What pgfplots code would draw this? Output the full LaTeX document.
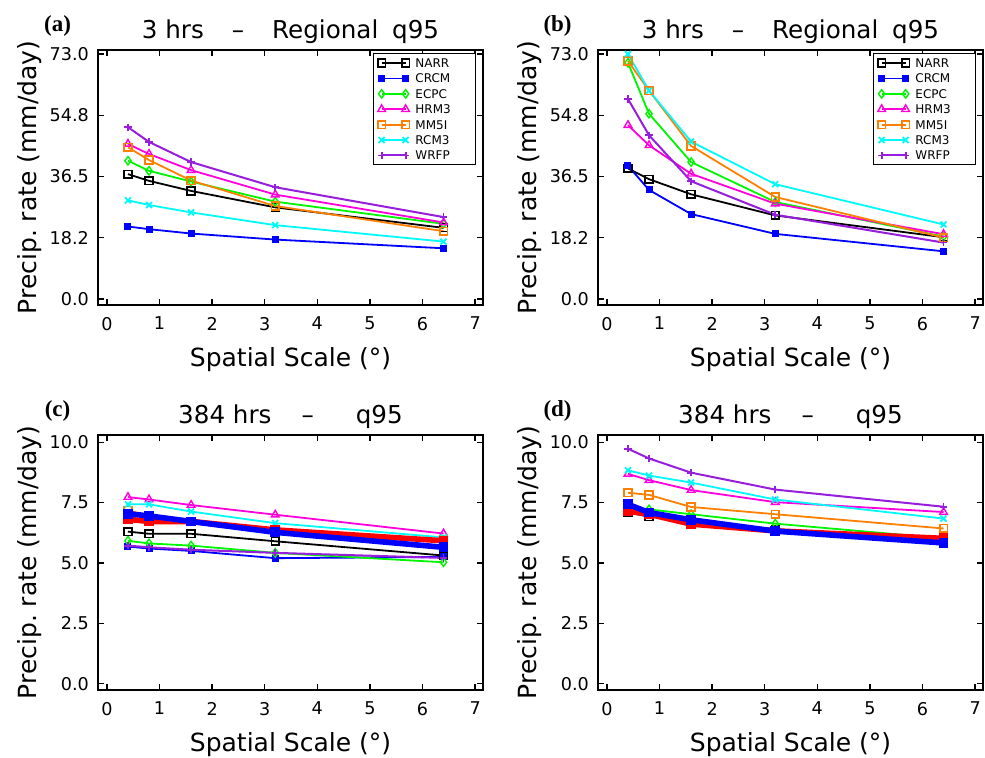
\documentclass[border=0pt]{standalone}
\usepackage{pgfplots}
\usepackage{pgfplotstable}
\pgfplotsset{compat=1.18}
\usepackage{fontspec}
\setmainfont{DejaVu Sans}
\newfontfamily\lblfont{Liberation Serif}
\definecolor{cCRCM}{RGB}{0,0,255}
\definecolor{cECPC}{RGB}{0,245,0}
\definecolor{cHRM}{RGB}{255,0,220}
\definecolor{cMM}{RGB}{255,128,0}
\definecolor{cRCM}{RGB}{0,250,250}
\definecolor{cWRF}{RGB}{150,30,220}
\definecolor{cRED}{RGB}{255,0,0}

\pgfplotstableread{
x   NARR CRCM ECPC HRM3 MM5I RCM3 WRFP
0.4 37.2 21.6 41.2 46.2 45.2 29.4 51.2
0.8 35.2 20.8 38.2 43.2 41.4 28.0 46.8
1.6 32.2 19.5 35.0 38.4 35.3 25.8 40.8
3.2 27.3 17.7 29.0 31.1 27.7 22.0 33.3
6.4 21.2 15.1 22.4 22.8 20.2 17.1 24.4
}\tA
\pgfplotstableread{
x   NARR CRCM ECPC HRM3 MM5I RCM3 WRFP
0.4 38.9 39.7 70.4 51.8 70.9 73.0 59.6
0.8 35.7 32.5 55.2 45.8 62.1 62.1 48.8
1.6 31.2 25.3 40.8 37.3 45.6 46.9 35.1
3.2 24.9 19.4 28.9 28.4 30.4 34.2 25.1
6.4 18.4 14.2 18.6 19.3 18.3 22.2 16.8
}\tB
\pgfplotstableread{
x   NARR CRCM ECPC HRM3 MM5I RCM3 WRFP RED  BLUE
0.4 6.30 5.68 5.92 7.73 7.18 7.43 5.72 6.81 7.04
0.8 6.21 5.60 5.81 7.63 6.95 7.43 5.65 6.72 6.95
1.6 6.21 5.50 5.72 7.40 6.72 7.13 5.55 6.72 6.72
3.2 5.90 5.20 5.42 7.00 6.30 6.65 5.42 6.37 6.27
6.4 5.31 5.25 5.03 6.22 5.95 6.06 5.21 5.92 5.65
}\tC
\pgfplotstableread{
x   NARR CRCM ECPC HRM3 MM5I RCM3 WRFP RED  BLUE
0.4 7.09 7.36 7.30 8.69 7.91 8.84 9.73 7.15 7.43
0.8 6.92 6.95 7.22 8.43 7.82 8.62 9.33 7.02 7.09
1.6 6.74 6.81 7.02 8.02 7.32 8.33 8.74 6.61 6.79
3.2 6.40 6.33 6.63 7.52 7.02 7.63 8.04 6.33 6.32
6.4 5.85 5.85 6.02 7.11 6.43 6.84 7.33 6.02 5.83
}\tD

\pgfplotsset{
  base/.style={
    scale only axis, width=192.5pt, height=127.5pt,
    xmin=-0.17, xmax=7.15, xtick={0,...,7},
    tick align=inside, major tick length=3pt,
    axis line style={line width=0.9pt},
    every tick/.style={black, line width=0.7pt},
    /pgf/number format/assume math mode=true,
    ticklabel style={font=\fontsize{8.8}{8.8}\selectfont},
    xticklabel style={yshift=-2.5pt},
    yticklabel style={xshift=-1pt},
    xlabel={Spatial Scale (°)},
    ylabel={Precip.\ rate (mm/day)},
    label style={font=\fontsize{12.5}{12.5}\selectfont},
    xlabel style={at={(axis description cs:0.5,-0.243)}, anchor=base},
    ylabel style={at={(axis description cs:-0.161,0.5)}, anchor=base},
    clip=false,
    legend style={at={(rel axis cs:0.982,0.988)}, anchor=north east, draw=black, line width=0.6pt, fill=white,
      inner xsep=2pt, inner ysep=1.5pt, row sep=1.3pt, column sep=2pt, font=\fontsize{6}{6}\selectfont,
      nodes={inner sep=1pt, text height=4.4pt, text depth=0pt, text width=27pt, align=left}},
    legend cell align=left,
    legend image code/.code={\draw[#1, mark repeat=1] plot coordinates {(0pt,0pt) (12pt,0pt)};},
  },
  topy/.style={ymin=-1.8, ymax=74.2, ytick={0,18.25,36.5,54.75,73}, yticklabels={0.0,18.2,36.5,54.8,73.0}},
  boty/.style={ymin=-0.26, ymax=10.3, ytick={0,2.5,5,7.5,10}, yticklabels={0.0,2.5,5.0,7.5,10.0}},
  sNARR/.style={color=black, line width=0.9pt, mark=square, mark size=1.9pt, mark options={solid, line width=0.8pt}},
  sCRCM/.style={color=cCRCM, line width=0.9pt, mark=square*, mark size=1.5pt, mark options={solid, line width=0.5pt}},
  sECPC/.style={color=cECPC, line width=0.9pt, mark=diamond, mark size=2.1pt, mark options={solid, line width=0.7pt}},
  sHRM3/.style={color=cHRM, line width=0.9pt, mark=triangle, mark size=2.2pt, mark options={solid, line width=0.7pt}},
  sMM5I/.style={color=cMM, line width=0.9pt, mark=square, mark size=1.9pt, mark options={solid, line width=0.8pt}},
  sRCM3/.style={color=cRCM, line width=0.9pt, mark=x, mark size=2.1pt, mark options={solid, line width=0.9pt}},
  sWRFP/.style={color=cWRF, line width=1pt, mark=+, mark size=1.8pt, mark options={solid, line width=0.9pt}},
  sRED/.style={color=cRED, line width=2.8pt, mark=square*, mark size=2.2pt, mark options={solid, line width=0.5pt}},
  sBLUE/.style={color=cCRCM, line width=2.8pt, mark=square*, mark size=2.2pt, mark options={solid, line width=0.5pt}},
}

\newcommand{\allmodels}[1]{%
  \addplot[sNARR] table[x=x, y=NARR] {#1};
  \addplot[sCRCM] table[x=x, y=CRCM] {#1};
  \addplot[sECPC] table[x=x, y=ECPC] {#1};
  \addplot[sHRM3] table[x=x, y=HRM3] {#1};
  \addplot[sMM5I] table[x=x, y=MM5I] {#1};
  \addplot[sRCM3] table[x=x, y=RCM3] {#1};
  \addplot[sWRFP] table[x=x, y=WRFP] {#1};
}
\newcommand{\plab}[1]{\node[font=\lblfont\bfseries\fontsize{11.5}{11.5}\selectfont] at (rel axis cs:-0.105,1.095) {(#1)};}
\newcommand{\ptitle}[1]{\node[anchor=base, inner sep=0pt, font=\fontsize{12.3}{12.3}\selectfont] at (rel axis cs:0.5,1.046) {#1};}

\begin{document}
\begin{tikzpicture}
\useasboundingbox (0,0) rectangle (492.5pt,-378.5pt);

\begin{axis}[base, topy, at={(49pt,-25pt)}, anchor=north west]
  \allmodels{\tA}
  \legend{NARR,CRCM,ECPC,HRM3,MM5I,RCM3,WRFP}
  \plab{a}
  \ptitle{3 hrs\hspace{14pt}–\hspace{14pt}Regional\hspace{3pt} q95}
\end{axis}

\begin{axis}[base, topy, at={(299pt,-25pt)}, anchor=north west]
  \allmodels{\tB}
  \legend{NARR,CRCM,ECPC,HRM3,MM5I,RCM3,WRFP}
  \plab{b}
  \ptitle{3 hrs\hspace{14pt}–\hspace{14pt}Regional\hspace{3pt} q95}
\end{axis}

\begin{axis}[base, boty, at={(49pt,-217.5pt)}, anchor=north west]
  \allmodels{\tC}
  \addplot[sRED] table[x=x, y=RED] {\tC};
  \addplot[sBLUE] table[x=x, y=BLUE] {\tC};
  \plab{c}
  \ptitle{384 hrs\hspace{15pt}–\hspace{21pt}q95}
\end{axis}

\begin{axis}[base, boty, at={(299pt,-217.5pt)}, anchor=north west]
  \allmodels{\tD}
  \addplot[sRED] table[x=x, y=RED] {\tD};
  \addplot[sBLUE] table[x=x, y=BLUE] {\tD};
  \plab{d}
  \ptitle{384 hrs\hspace{15pt}–\hspace{21pt}q95}
\end{axis}
\end{tikzpicture}
\end{document}
